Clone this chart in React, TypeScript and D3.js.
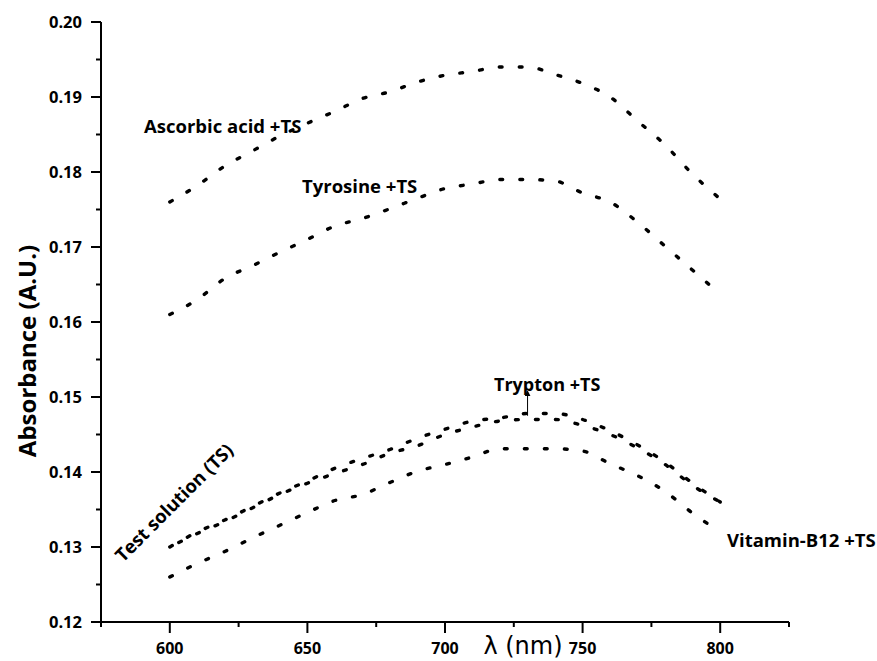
import React from "react";
import * as d3 from "d3";

const WAVELENGTHS = [600, 610, 620, 630, 640, 650, 660, 670, 680, 690, 700, 710, 720, 730, 740, 750, 760, 770, 780, 790, 800];
const ASCORBIC = [0.1760, 0.1782, 0.1808, 0.1828, 0.1848, 0.1865, 0.1881, 0.1898, 0.1907, 0.1920, 0.1929, 0.1934, 0.1940, 0.1940, 0.1930, 0.1918, 0.1900, 0.1868, 0.1836, 0.1797, 0.1764];
const TYROSINE = [0.1610, 0.1630, 0.1658, 0.1675, 0.1693, 0.1710, 0.1728, 0.1738, 0.1751, 0.1765, 0.1778, 0.1784, 0.1790, 0.1790, 0.1788, 0.1772, 0.1760, 0.1733, 0.1701, 0.1669, 0.1637];
const TRYPTON = [0.1300, 0.1320, 0.1336, 0.1354, 0.1372, 0.1388, 0.1405, 0.1418, 0.1430, 0.1445, 0.1457, 0.1468, 0.1472, 0.1478, 0.1478, 0.1470, 0.1455, 0.1436, 0.1413, 0.1385, 0.1360];
const TEST_SOLUTION = [0.1300, 0.1318, 0.1334, 0.1352, 0.1370, 0.1385, 0.1398, 0.1410, 0.1425, 0.1435, 0.1450, 0.1460, 0.1468, 0.1470, 0.1470, 0.1462, 0.1450, 0.1432, 0.1410, 0.1382, 0.1360];
const VITAMIN_B12 = [0.1260, 0.1278, 0.1294, 0.1312, 0.1329, 0.1346, 0.1362, 0.1370, 0.1386, 0.1401, 0.1410, 0.1420, 0.1431, 0.1431, 0.1431, 0.1428, 0.1411, 0.1395, 0.1374, 0.1345, 0.1320];

const X_TICKS = [600, 650, 700, 750, 800];
const X_MINOR = [575, 625, 675, 725, 775, 825];
const Y_TICKS = [0.12, 0.13, 0.14, 0.15, 0.16, 0.17, 0.18, 0.19, 0.20];
const Y_MINOR = [0.125, 0.135, 0.145, 0.155, 0.165, 0.175, 0.185, 0.195];

const SERIES = [
  { name: "Ascorbic acid +TS", values: ASCORBIC, offset: 0 },
  { name: "Tyrosine +TS", values: TYROSINE, offset: 0 },
  { name: "Trypton +TS", values: TRYPTON, offset: 0 },
  { name: "Test solution (TS)", values: TEST_SOLUTION, offset: 10 },
  { name: "Vitamin-B12 +TS", values: VITAMIN_B12, offset: 0 },
];

const FONT = "'Open Sans', sans-serif";

export default function App() {
  const x = d3.scaleLinear().domain([575, 825]).range([101, 789]);
  const y = d3.scaleLinear().domain([0.12, 0.2]).range([622, 22]);
  const line = d3
    .line<number>()
    .x((_, i) => x(WAVELENGTHS[i]))
    .y((d) => y(d))
    .curve(d3.curveMonotoneX);

  const x0 = x(575);
  const y0 = y(0.12);

  return (
    <svg
      width={877}
      height={661}
      style={{ position: "absolute", left: 0, top: 0, background: "#fff" }}
      fontFamily={FONT}
    >
      <rect width={877} height={661} fill="#fff" />
      {SERIES.map((s) => (
        <path
          key={s.name}
          d={line(s.values) || ""}
          fill="none"
          stroke="#000"
          strokeWidth={3.4}
          strokeLinecap="round"
          strokeDasharray="2.8 17.2"
          strokeDashoffset={s.offset}
        />
      ))}

      <line x1={x0} x2={x0} y1={y(0.2)} y2={y0} stroke="#000" strokeWidth={2} />
      <line x1={x0} x2={x(825)} y1={y0} y2={y0} stroke="#000" strokeWidth={2} />
      {Y_TICKS.map((t) => (
        <g key={"y" + t}>
          <line x1={x0 - 10} x2={x0} y1={y(t)} y2={y(t)} stroke="#000" strokeWidth={2} />
          <text x={x0 - 19} y={y(t)} dy="0.36em" textAnchor="end" fontSize={16.5} fontWeight="bold">
            {t.toFixed(2)}
          </text>
        </g>
      ))}
      {Y_MINOR.map((t) => (
        <line key={"ym" + t} x1={x0 - 5} x2={x0} y1={y(t)} y2={y(t)} stroke="#000" strokeWidth={2} />
      ))}
      {X_TICKS.map((t) => (
        <g key={"x" + t}>
          <line x1={x(t)} x2={x(t)} y1={y0} y2={y0 + 11} stroke="#000" strokeWidth={2} />
          <text x={x(t)} y={654} textAnchor="middle" fontSize={16} fontWeight="bold">
            {t}
          </text>
        </g>
      ))}
      {X_MINOR.map((t) => (
        <line key={"xm" + t} x1={x(t)} x2={x(t)} y1={y0} y2={y0 + 5} stroke="#000" strokeWidth={2} />
      ))}

      <text
        transform="translate(36,351) rotate(-90)"
        textAnchor="middle"
        fontSize={24}
        fontWeight="bold"
      >
        Absorbance (A.U.)
      </text>
      <text x={523} y={654} textAnchor="middle" fontSize={24} fontFamily="'DejaVu Sans', sans-serif">
        λ (nm)
      </text>

      <text x={144} y={133} fontSize={18.5} fontWeight="bold">Ascorbic acid +TS</text>
      <text x={302} y={193} fontSize={18.5} fontWeight="bold">Tyrosine +TS</text>
      <text x={494} y={391} fontSize={18} fontWeight="bold">Trypton +TS</text>
      <text x={727} y={547} fontSize={18.5} fontWeight="bold">Vitamin-B12 +TS</text>
      <text transform="translate(123,563) rotate(-45)" fontSize={18.5} fontWeight="bold">
        Test solution (TS)
      </text>
      <defs>
        <marker id="arrowhead" markerWidth="6" markerHeight="6" refX="3" refY="3" orient="auto">
          <path d="M0,0 L6,3 L0,6 Z" fill="#000" />
        </marker>
      </defs>
      <line
        x1={x(730)}
        x2={x(730)}
        y1={y(0.1475)}
        y2={y(0.1505)}
        stroke="#000"
        strokeWidth={1}
        markerEnd="url(#arrowhead)"
      />
    </svg>
  );
}
